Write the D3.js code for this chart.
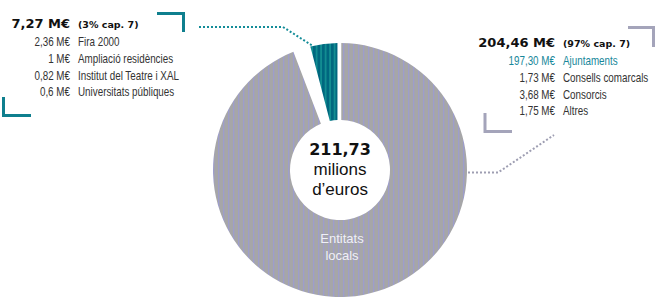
<!DOCTYPE html>
<html>
<head>
<meta charset="utf-8">
<script src="https://cdn.jsdelivr.net/npm/d3@7"></script>
<style>
  body { margin: 0; background: #fff; }
  svg { display: block; }
</style>
</head>
<body>
<svg id="chart" width="670" height="308"></svg>
<script>
// capítol 7: transferències de capital
const sliceNames = ["Entitats locals", "Altres"];
const sliceValues = [204.46, 7.27];
const totalValue = 211.73;
const chapter = 7;

const localValues = [197.30, 1.73, 3.68, 1.75];
const localLabels = ["Ajuntaments", "Consells comarcals", "Consorcis", "Altres"];

const otherValues = [2.36, 1, 0.82, 0.6];
const otherLabels = ["Fira 2000", "Ampliació residències", "Institut del Teatre i XAL", "Universitats públiques"];

const locale = d3.formatLocale({ decimal: ",", thousands: ".", grouping: [3], currency: ["", ""] });
const fmt2 = locale.format(".2f");
const fmtTrim = locale.format(".2~f");
const fmtPct = locale.format(".0%");

const svg = d3.select("#chart");
const cx = 340;
const cy = 170;
const outerR = 127;
const innerR = 50;

const teal = "#0f7f8e";
const tealText = "#17879a";
const lilac = "#a4a4ba";
const heavy = "'DejaVu Sans', sans-serif";
const plain = "'Liberation Sans', Arial, sans-serif";
const squeeze = 0.82; // lletra estreta

// trama de ratlles verticals
const defs = svg.append("defs");
const grayPat = defs.append("pattern").attr("id", "gray-stripes")
  .attr("patternUnits", "userSpaceOnUse").attr("width", 5).attr("height", 10);
grayPat.append("rect").attr("width", 5).attr("height", 10).attr("fill", "#a6a6a8");
grayPat.append("rect").attr("x", 3).attr("width", 1.3).attr("height", 10).attr("fill", "#9d9dcc");

const tealPat = defs.append("pattern").attr("id", "teal-stripes")
  .attr("patternUnits", "userSpaceOnUse").attr("width", 4.5).attr("height", 10);
tealPat.append("rect").attr("width", 4.5).attr("height", 10).attr("fill", "#00677f");
tealPat.append("rect").attr("x", 3).attr("width", 1.2).attr("height", 10).attr("fill", "#1a9f9c");

// pastís
const pie = d3.pie().sort(null).value((d) => d).startAngle(0).endAngle(2 * Math.PI);
const slices = pie(sliceValues);
const arc = d3.arc().innerRadius(innerR).outerRadius(outerR).padRadius(outerR);

const g = svg.append("g").attr("transform", `translate(${cx},${cy})`);

g.append("path")
  .attr("d", arc({ ...slices[0], endAngle: slices[0].endAngle - 0.15, padAngle: 0.02 }))
  .attr("fill", "url(#gray-stripes)");

g.append("path")
  .attr("d", arc({ ...slices[1], startAngle: slices[1].startAngle - 0.04, padAngle: 0.04 }))
  .attr("fill", "url(#teal-stripes)");

// text central
g.append("text").attr("y", -15).attr("text-anchor", "middle")
  .attr("font-family", heavy).attr("font-weight", "bold").attr("font-size", 16).attr("fill", "#111")
  .text(fmt2(totalValue));
g.append("text").attr("y", 5).attr("text-anchor", "middle")
  .attr("font-family", plain).attr("font-size", 17).attr("fill", "#111")
  .text("milions");
g.append("text").attr("y", 25).attr("text-anchor", "middle")
  .attr("font-family", plain).attr("font-size", 17).attr("fill", "#111")
  .text("d’euros");

const nameLines = sliceNames[0].split(" ");
g.append("g").selectAll("text")
  .data(nameLines)
  .join("text")
  .attr("x", 2)
  .attr("y", (_, i) => 73 + i * 17)
  .attr("text-anchor", "middle")
  .attr("font-family", plain).attr("font-size", 13).attr("fill", "#f0f0f6")
  .text((d) => d);

// punts d'ancoratge de les línies de punts
function outerPoint(angle) {
  return [cx + outerR * Math.sin(angle), cy - outerR * Math.cos(angle)];
}
const tealCorner = outerPoint(slices[1].startAngle);
const grayRight = outerPoint(Math.PI / 2 + 0.02);

const line = d3.line();
svg.append("path")
  .attr("d", line([[199, 27], [283, 27], tealCorner]))
  .attr("fill", "none").attr("stroke", "#138c98").attr("stroke-width", 2).attr("stroke-dasharray", "2 2");
svg.append("path")
  .attr("d", line([[grayRight[0] + 1, grayRight[1]], [498, grayRight[1]], [554, 135]]))
  .attr("fill", "none").attr("stroke", "#9e9eb2").attr("stroke-width", 2).attr("stroke-dasharray", "2 2");

// cantoneres
function bracket(d, color) {
  svg.append("path").attr("d", d).attr("fill", "none").attr("stroke", color).attr("stroke-width", 3);
}
bracket("M157,13.5H183.5V32", teal);
bracket("M3.5,97V115.5H31", teal);
bracket("M628,27.5H653.5V47", lilac);
bracket("M485,113V131.5H512", lilac);

// blocs de detall
function detailBlock(x, y, total, pct, values, labels, fmt, firstColor) {
  const block = svg.append("g").attr("transform", `translate(${x},${y})`);
  block.append("text").attr("text-anchor", "end")
    .attr("font-family", heavy).attr("font-weight", "bold").attr("font-size", 13).attr("fill", "#111")
    .text(`${fmt2(total)} M€`);
  block.append("text").attr("x", 8)
    .attr("font-family", heavy).attr("font-weight", "bold").attr("font-size", 9.5).attr("fill", "#111")
    .text(`(${fmtPct(pct)} cap. ${chapter})`);

  const rows = block.append("g").selectAll("g")
    .data(values)
    .join("g")
    .attr("transform", (_, i) => `translate(0,${18 + i * 16.8}) scale(${squeeze},1)`)
    .attr("fill", (_, i) => (i === 0 && firstColor ? firstColor : "#333"))
    .attr("font-family", plain)
    .attr("font-size", 12);
  rows.append("text").attr("text-anchor", "end").text((d) => `${fmt(d)} M€`);
  rows.append("text").attr("x", 8 / squeeze).text((_, i) => labels[i]);
}

detailBlock(70, 28, sliceValues[1], sliceValues[1] / totalValue, otherValues, otherLabels, fmtTrim, null);
detailBlock(555, 47, sliceValues[0], sliceValues[0] / totalValue, localValues, localLabels, fmt2, tealText);
</script>
</body>
</html>
